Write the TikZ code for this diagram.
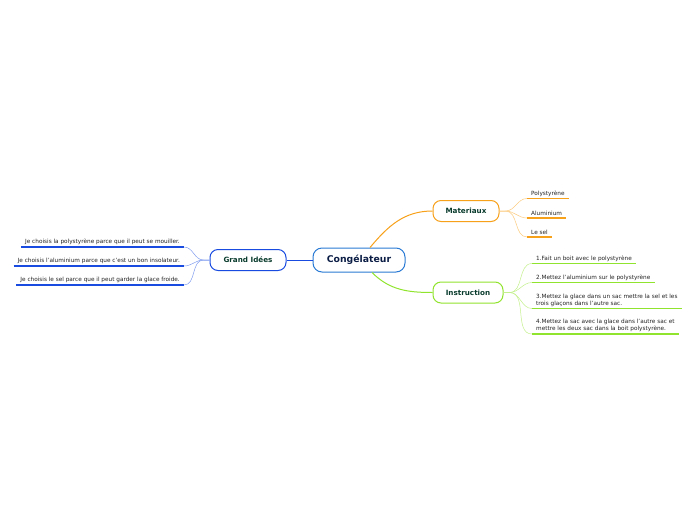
\documentclass[tikz,border=0pt]{standalone}
\usepackage{fontspec}
\setmainfont{DejaVu Sans}
\usepackage{xcolor}
\definecolor{zentralblau}{RGB}{40,122,212}
\definecolor{dunkelblau}{RGB}{12,30,70}
\definecolor{dunkelgruen}{RGB}{10,60,45}
\definecolor{astorange}{RGB}{247,160,25}
\definecolor{astgruen}{RGB}{145,228,45}
\definecolor{astblau}{RGB}{25,75,225}
\definecolor{textgrau}{RGB}{35,35,35}

\begin{document}
\begin{tikzpicture}[x=1pt, y=-1pt,
    haupt/.style={draw=#1, line width=1pt, rounded corners=8pt, fill=white,
      font=\bfseries\fontsize{7.2}{8}\selectfont, text=dunkelgruen, minimum height=21pt},
    blatt/.style={inner xsep=4pt, inner ysep=2pt, align=left,
      font=\fontsize{5.75}{7}\selectfont, text=textgrau},
    strich/.style={draw=#1, line width=1.2pt},
    zweig/.style={draw=#1!55, line width=0.5pt}]
    % Rahmen
    \useasboundingbox (0,0) rectangle (696,520);
    % Zentrum
    \node[draw=zentralblau, line width=1pt, rounded corners=9pt, fill=white,
      minimum width=92pt, minimum height=24pt, text=dunkelblau,
      font=\bfseries\fontsize{9.3}{10}\selectfont] (congel) at (359,260) {Congélateur};
    % Hauptaeste
    \node[haupt=astorange, minimum width=66pt] (mat) at (466,211) {Materiaux};
    \node[haupt=astgruen, minimum width=70pt] (instr) at (468,292.5) {Instruction};
    \node[haupt=astblau, minimum width=76pt] (ideen) at (248,260) {Grand Idées};
    \draw[astorange, line width=1pt] ([xshift=11pt]congel.north) to[out=50,in=180] (mat.west);
    \draw[astgruen, line width=1pt] ([xshift=13pt]congel.south) to[out=-45,in=180] (instr.west);
    \draw[astblau, line width=1pt] (congel.west) -- (ideen.east);
    % Materiaux
    \node[blatt, anchor=south west] (m1) at (527,198.5) {Polystyrène};
    \node[blatt, anchor=south west] (m2) at (527,218) {Aluminium};
    \node[blatt, anchor=south west] (m3) at (527,237) {Le sel};
    \foreach \b in {m1,m2,m3} {
      \draw[strich=astorange] (\b.south west) -- (\b.south east);
      \draw[zweig=astorange] (mat.east) -- ++(6,0) to[out=0,in=180] (\b.south west);
    }
    % Instruction
    \node[blatt, anchor=south west] (i1) at (532,263.5) {1.Fait un boit avec le polystyrène};
    \node[blatt, anchor=south west] (i2) at (532,282.5) {2.Mettez l'aluminium sur le polystyrène};
    \node[blatt, anchor=south west] (i3) at (532,308.5) {3.Mettez la glace dans un sac mettre la sel et les\\trois glaçons dans l'autre sac.};
    \node[blatt, anchor=south west] (i4) at (532,334) {4.Mettez la sac avec la glace dans l'autre sac et\\mettre les deux sac dans la boit polystyrène.};
    \foreach \b in {i1,i2,i3,i4} {
      \draw[strich=astgruen] (\b.south west) -- (\b.south east);
      \draw[zweig=astgruen] (instr.east) -- ++(6,0) to[out=0,in=180] (\b.south west);
    }
    % Grand Idees
    \node[blatt, anchor=south east] (g1) at (184,247) {Je choisis la polystyrène parce que il peut se mouiller.};
    \node[blatt, anchor=south east] (g2) at (184,266) {Je choisis l'aluminium parce que c'est un bon insolateur.};
    \node[blatt, anchor=south east] (g3) at (184,285) {Je choisis le sel parce que il peut garder la glace froide.};
    \foreach \b in {g1,g2,g3} {
      \draw[strich=astblau] (\b.south west) -- (\b.south east);
      \draw[zweig=astblau] (ideen.west) -- ++(-6,0) to[out=180,in=0] (\b.south east);
    }
\end{tikzpicture}
\end{document}
